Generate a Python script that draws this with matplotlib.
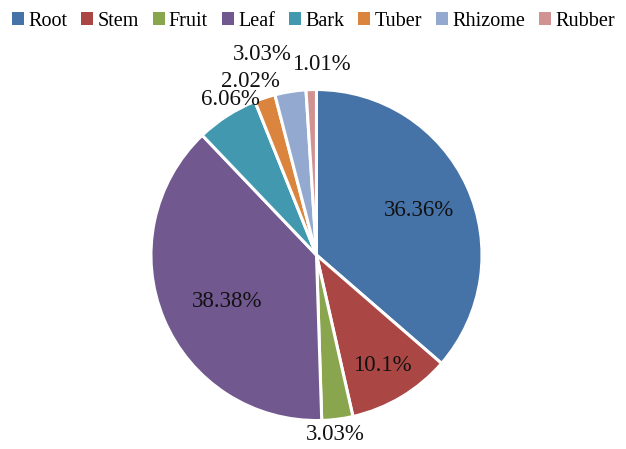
import matplotlib.pyplot as plt
from matplotlib.patches import Patch

plt.rcParams['font.family'] = ['Liberation Serif', 'DejaVu Serif']

parts = ['Root', 'Stem', 'Fruit', 'Leaf', 'Bark', 'Tuber', 'Rhizome', 'Rubber']
share = [36.36, 10.1, 3.03, 38.38, 6.06, 2.02, 3.03, 1.01]
labels = ['36.36%', '10.1%', '3.03%', '38.38%', '6.06%', '2.02%', '3.03%', '1.01%']
colors = ['#4572A7', '#AA4643', '#89A54E', '#71588F', '#4198AF', '#DB843D', '#93A9CF', '#D19392']

# where each percentage sits (pie radius = 1)
label_pos = [(0.62, 0.27), (0.40, -0.67), (0.115, -1.085), (-0.54, -0.28),
             (-0.52, 0.94), (-0.40, 1.05), (-0.33, 1.21), (0.03, 1.15)]

fig = plt.figure(figsize=(6.26, 4.49), dpi=100)
ax = fig.add_axes([0, 0, 1, 1])
ax.axis('off')

wedges, _ = ax.pie(share, colors=colors, startangle=90, counterclock=False,
                   radius=1, wedgeprops=dict(edgecolor='white', linewidth=2.2))

for lab, (x, y) in zip(labels, label_pos):
    ax.text(x, y, lab, ha='center', va='center', fontsize=16.5, color='#111111')

ax.set_aspect('auto')
ax.set_xlim(-1.912, 1.870)
ax.set_ylim(-1.172, 1.541)

handles = [Patch(facecolor=c, edgecolor='none') for c in colors]
fig.legend(handles, parts, loc='center left', bbox_to_anchor=(12 / 626, 1 - 21 / 449), ncol=8,
           frameon=False, prop={'family': 'Liberation Serif', 'size': 14.5},
           handlelength=0.6, handleheight=0.6,
           handletextpad=0.2, columnspacing=0.7, borderpad=0, borderaxespad=0)

fig.savefig('out.png', dpi=100)
